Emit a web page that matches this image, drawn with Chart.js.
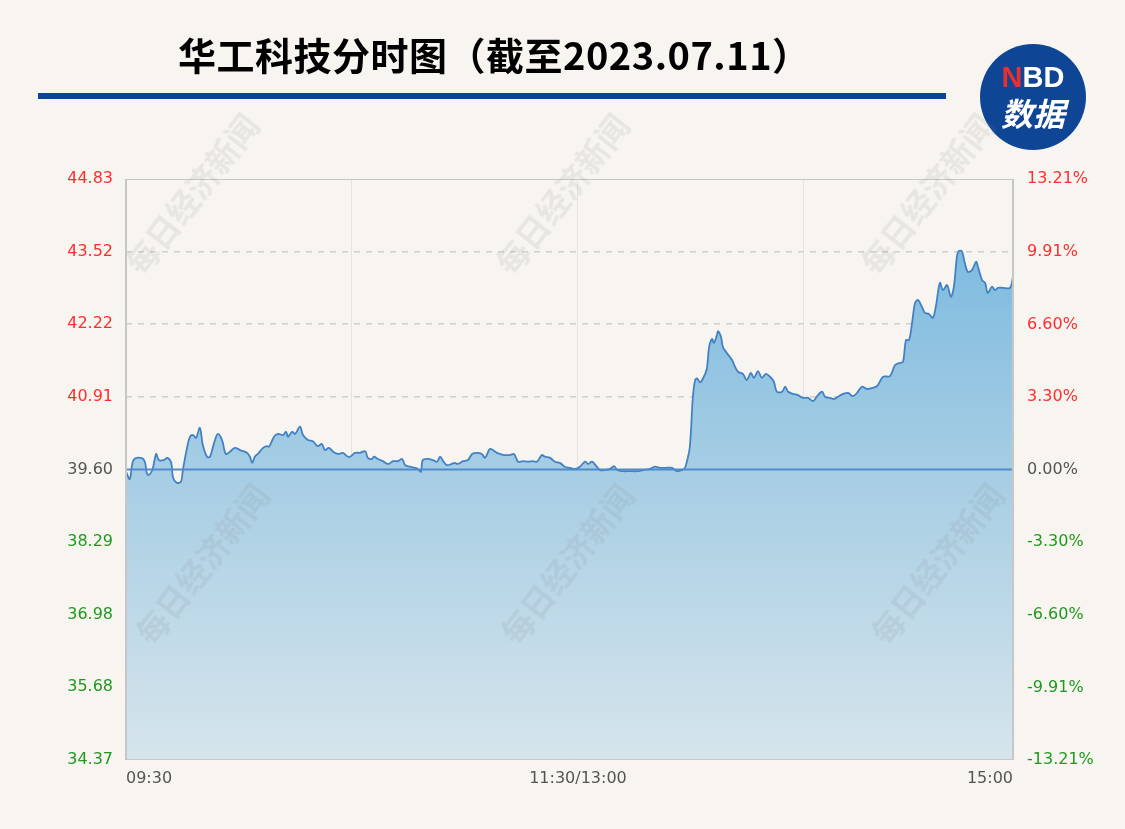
<!DOCTYPE html>
<html>
<head>
<meta charset="utf-8">
<script src="https://cdn.jsdelivr.net/npm/chart.js@4/dist/chart.umd.min.js"></script>
<style>
  html, body { margin: 0; padding: 0; background: #f8f5f0; }
  #wrap { position: relative; width: 1125px; height: 829px; overflow: hidden; }
  #title { position: absolute; left: 178px; top: 31px; font: bold 38px "Noto Sans CJK SC", sans-serif; line-height: 46px; letter-spacing: 0.5px; color: #000; white-space: nowrap; }
  #bar { position: absolute; left: 38px; top: 93px; width: 908px; height: 6px; background: #0b4595; }
  #logo { position: absolute; left: 980px; top: 44px; width: 106px; height: 106px; border-radius: 50%; background: #0e4595; text-align: center; color: #fff; font-family: "Noto Sans CJK SC", sans-serif; font-weight: bold; }
  #logo .nbd { position: absolute; left: 0; right: 0; top: 17px; font: bold 29px "Liberation Sans", Arial, sans-serif; line-height: 32px; }
  #logo .nbd span { color: #e8302e; }
  #logo .sj { position: absolute; left: 0; right: 0; top: 48px; font-size: 32px; line-height: 40px; font-style: italic; }
  .wm { position: absolute; font: bold 32px "Noto Sans CJK SC", sans-serif; color: rgba(120, 120, 120, 0.12); transform: rotate(-52deg); white-space: nowrap; pointer-events: none; z-index: 3; }
  canvas { position: absolute; left: 0; top: 0; }
</style>
</head>
<body>
<div id="wrap">
  <canvas id="chart" width="1125" height="829"></canvas>
  <div id="title">华工科技分时图（截至2023.07.11）</div>
  <div id="bar"></div>
  <div id="logo"><div class="nbd"><span>N</span>BD</div><div class="sj">数据</div></div>
</div>
<script>
// 分时数据 (分钟, 从 09:30 起算)
const minutes = [0, 1, 2, 4, 5, 5.5, 6, 7, 8, 8.7, 10, 11, 12, 12.5, 13.5, 14.6, 15.1, 16.2, 17, 17.8, 18.6, 19.6, 20.4, 21.5, 22.3, 23.4, 24.4, 25.5, 26.5, 27.6, 28.9, 30.3, 32.1, 32.9, 33.5, 34.2, 35, 36.4, 37.4, 38, 39.3, 40.4, 41.7, 42.5, 43, 44.1, 44.9, 46.2, 47, 48.3, 49.6, 50.9, 52, 52.8, 53.9, 55, 56.3, 57.6, 58.7, 59.5, 60.8, 62.1, 63.5, 64.2, 65.3, 65.8, 66.9, 68.2, 69.6, 70.9, 72.2, 73.3, 74.1, 75.4, 76.7, 77.5, 78.3, 78.8, 80.2, 81.5, 82.6, 83.4, 84.2, 85.2, 86.5, 87.3, 88.1, 89.5, 90.8, 91.9, 93.2, 94.5, 95.3, 96.6, 97.4, 98.5, 99.3, 100.6, 101.9, 103, 104.1, 105.4, 106.7, 108.1, 109.1, 110.4, 111.2, 112.6, 113.9, 115.2, 116.5, 117.9, 119.2, 120.5, 121.9, 122.7, 123.7, 125, 125.8, 127.2, 128.5, 129.6, 130.4, 131.9, 133.8, 135.7, 137.3, 139.1, 140.4, 141.8, 143.1, 145, 146.3, 147.6, 148.4, 148.9, 149.7, 150.5, 151.1, 151.6, 152.4, 153.2, 154.2, 154.8, 155.6, 156.1, 156.9, 157.2, 158, 158.5, 159.5, 160.9, 161.7, 162.5, 163.8, 164.8, 165.9, 166.7, 167.8, 168.8, 169.9, 171, 172, 172.8, 174.2, 175, 175.8, 177.1, 178.4, 179.7, 181.1, 182.4, 183.5, 184.8, 185.6, 186.9, 188, 189, 190.4, 191.7, 193, 194.1, 195.4, 196.7, 198.1, 199.4, 201, 202.8, 204.2, 205.5, 206.3, 207.1, 207.9, 208.7, 209.5, 210.3, 211.3, 212.1, 213.2, 214.2, 215, 216.1, 216.9, 218, 219, 219.8, 220.6, 221.1, 221.9, 222.7, 223.5, 224.6, 225.7, 226.2, 227.3, 228.1, 228.8, 229.9, 230.7, 231.5, 232.8, 234.7, 235.5];
const prices = [39.56, 39.43, 39.77, 39.81, 39.74, 39.54, 39.50, 39.59, 39.88, 39.77, 39.77, 39.81, 39.72, 39.45, 39.36, 39.38, 39.59, 39.99, 40.19, 40.22, 40.17, 40.35, 40.04, 39.83, 39.83, 40.08, 40.24, 40.13, 39.88, 39.92, 39.99, 39.95, 39.90, 39.83, 39.72, 39.83, 39.88, 39.99, 40.02, 40.01, 40.19, 40.24, 40.22, 40.28, 40.19, 40.28, 40.24, 40.37, 40.22, 40.13, 40.11, 40.02, 40.06, 39.95, 39.99, 39.92, 39.88, 39.90, 39.84, 39.83, 39.90, 39.90, 39.93, 39.81, 39.79, 39.83, 39.79, 39.75, 39.70, 39.75, 39.75, 39.79, 39.68, 39.65, 39.63, 39.61, 39.56, 39.77, 39.79, 39.77, 39.74, 39.83, 39.75, 39.68, 39.70, 39.72, 39.70, 39.75, 39.77, 39.88, 39.90, 39.88, 39.81, 39.97, 39.95, 39.90, 39.88, 39.86, 39.86, 39.88, 39.74, 39.75, 39.74, 39.75, 39.74, 39.86, 39.83, 39.81, 39.74, 39.72, 39.65, 39.63, 39.61, 39.65, 39.74, 39.70, 39.74, 39.65, 39.59, 39.59, 39.61, 39.66, 39.59, 39.57, 39.57, 39.57, 39.59, 39.61, 39.65, 39.63, 39.63, 39.63, 39.57, 39.59, 39.63, 39.74, 40.01, 40.90, 41.21, 41.24, 41.17, 41.24, 41.41, 41.80, 41.95, 41.88, 42.02, 42.09, 41.98, 41.80, 41.70, 41.57, 41.45, 41.36, 41.32, 41.21, 41.34, 41.25, 41.37, 41.25, 41.32, 41.27, 41.18, 41.00, 41.00, 41.09, 41.00, 40.96, 40.94, 40.89, 40.89, 40.83, 40.92, 41.00, 40.91, 40.89, 40.87, 40.91, 40.96, 40.98, 40.92, 40.98, 41.09, 41.05, 41.07, 41.10, 41.27, 41.28, 41.48, 41.52, 41.54, 41.93, 41.93, 42.24, 42.60, 42.65, 42.53, 42.42, 42.40, 42.33, 42.53, 42.96, 42.83, 42.92, 42.71, 42.89, 43.43, 43.53, 43.53, 43.32, 43.16, 43.19, 43.34, 43.25, 43.01, 42.96, 42.78, 42.89, 42.83, 42.87, 42.87, 42.87, 43.07];

const prevClose = 39.60;
const priceTicks = [44.83, 43.52, 42.22, 40.91, 39.60, 38.29, 36.98, 35.68, 34.37];
const pctTicks = [13.21, 9.91, 6.60, 3.30, 0, -3.30, -6.60, -9.91, -13.21];
const timeTicks = [0, 60, 120, 180, 235.5];
const timeLabels = ['09:30', '', '11:30/13:00', '', '15:00'];
const watermarks = [[95, 170], [465, 170], [830, 170], [105, 540], [470, 540], [840, 540]];

// 水印
const wrap = document.getElementById('wrap');
watermarks.forEach(function (p) {
    var d = document.createElement('div');
    d.className = 'wm';
    d.textContent = '每日经济新闻';
    d.style.left = p[0] + 'px';
    d.style.top = p[1] + 'px';
    wrap.appendChild(d);
});

const RED = '#ff2d2d', GREEN = '#1f9a1f', GRAY = '#555555';

// 边框和昨收线
const framePlugin = {
    id: 'frame',
    afterDatasetsDraw: function (chart) {
        var ctx = chart.ctx, a = chart.chartArea;
        var yb = chart.scales.y.getPixelForValue(prevClose);
        ctx.save();
        ctx.strokeStyle = '#4f8bc9';
        ctx.lineWidth = 2;
        ctx.beginPath();
        ctx.moveTo(a.left, yb);
        ctx.lineTo(a.right, yb);
        ctx.stroke();
        ctx.strokeStyle = '#c6c6c6';
        ctx.lineWidth = 1;
        ctx.beginPath();
        ctx.moveTo(a.left, a.top + 0.5);
        ctx.lineTo(a.right, a.top + 0.5);
        ctx.moveTo(a.left, a.bottom - 0.5);
        ctx.lineTo(a.right, a.bottom - 0.5);
        ctx.stroke();
        ctx.lineWidth = 2;
        ctx.beginPath();
        ctx.moveTo(a.left, a.top);
        ctx.lineTo(a.left, a.bottom);
        ctx.moveTo(a.right, a.top);
        ctx.lineTo(a.right, a.bottom);
        ctx.stroke();
        ctx.restore();
    }
};

var chartCtx = document.getElementById('chart').getContext('2d');
var chart = new Chart(chartCtx, {
    type: 'line',
    data: {
        datasets: [{
            data: minutes.map(function (m, i) { return { x: m, y: prices[i] }; }),
            borderColor: '#4282c4',
            borderWidth: 1.8,
            pointRadius: 0,
            tension: 0.35,
            fill: 'start',
            backgroundColor: function (c) {
                var a = c.chart.chartArea;
                if (!a) return 'rgba(120,185,222,0.8)';
                var g = c.chart.ctx.createLinearGradient(0, a.top, 0, a.bottom);
                g.addColorStop(0, 'rgb(114,181,222)');
                g.addColorStop(0.5, 'rgb(166,205,228)');
                g.addColorStop(1, 'rgb(214,229,236)');
                return g;
            }
        }]
    },
    options: {
        responsive: false,
        animation: false,
        devicePixelRatio: 1,
        layout: { padding: { top: 179, left: 0, right: 0, bottom: 0 } },
        plugins: { legend: { display: false }, tooltip: { enabled: false } },
        scales: {
            x: {
                type: 'linear',
                min: 0,
                max: 235.5,
                afterBuildTicks: function (s) { s.ticks = timeTicks.map(function (v) { return { value: v }; }); },
                afterFit: function (s) { s.height = 69; },
                border: { display: false },
                grid: {
                    drawTicks: false,
                    color: function (c) {
                        var v = c.tick && c.tick.value;
                        return (v === 60 || v === 120 || v === 180) ? '#e4e4e4' : 'rgba(0,0,0,0)';
                    }
                },
                ticks: {
                    autoSkip: false,
                    maxRotation: 0,
                    align: 'inner',
                    padding: 9,
                    color: GRAY,
                    font: { family: 'DejaVu Sans', size: 16 },
                    callback: function (v, i) { return timeLabels[i]; }
                }
            },
            y: {
                position: 'left',
                min: 34.37,
                max: 44.83,
                afterBuildTicks: function (s) { s.ticks = priceTicks.map(function (v) { return { value: v }; }); },
                afterFit: function (s) { s.width = 126; },
                border: { display: false, dash: [6, 6] },
                grid: {
                    drawTicks: false,
                    lineWidth: 1.5,
                    color: function (c) {
                        var v = c.tick && c.tick.value;
                        if (v === 44.83 || v === 34.37 || v === prevClose) return 'rgba(0,0,0,0)';
                        return '#d0d0d0';
                    }
                },
                ticks: {
                    padding: 13,
                    font: { family: 'DejaVu Sans', size: 16 },
                    color: function (c) {
                        var v = c.tick.value;
                        return v > prevClose ? RED : (v < prevClose ? GREEN : GRAY);
                    },
                    callback: function (v) { return v.toFixed(2); }
                }
            },
            yPct: {
                position: 'right',
                min: -13.21,
                max: 13.21,
                afterBuildTicks: function (s) { s.ticks = pctTicks.map(function (v) { return { value: v }; }); },
                afterFit: function (s) { s.width = 112; },
                border: { display: false },
                grid: { display: false, drawTicks: false },
                ticks: {
                    padding: 14,
                    font: { family: 'DejaVu Sans', size: 16 },
                    color: function (c) {
                        var v = c.tick.value;
                        return v > 0 ? RED : (v < 0 ? GREEN : GRAY);
                    },
                    callback: function (v) { return v.toFixed(2) + '%'; }
                }
            }
        }
    },
    plugins: [framePlugin]
});
</script>
</body>
</html>
